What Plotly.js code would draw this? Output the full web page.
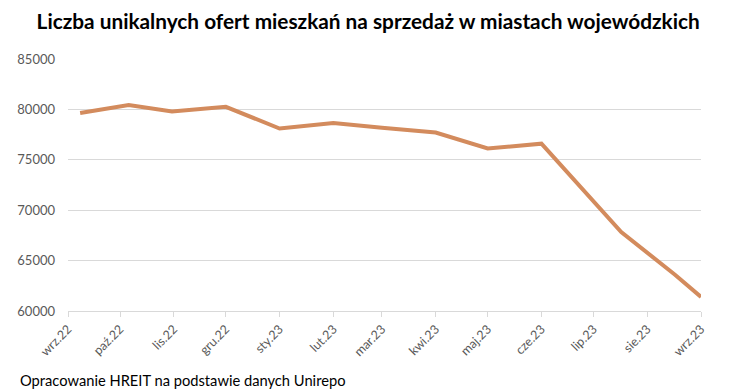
<!DOCTYPE html>
<html>
<head>
<meta charset="utf-8">
<script src="https://cdn.plot.ly/plotly-3.0.1.min.js"></script>
<style>html,body{margin:0;padding:0;background:#fff;}#chart{width:756px;height:390px;}</style>
</head>
<body>
<div id="chart"></div>
<script>
const dates = ['2022-09-08','2022-10-06','2022-10-31','2022-12-01','2023-01-01','2023-02-01','2023-03-01','2023-04-01','2023-05-01','2023-06-01','2023-07-17','2023-08-17','2023-09-01'];
const values = [79650, 80430, 79800, 80260, 78100, 78660, 78170, 77710, 76120, 76600, 67830, 63600, 61400];
const tickDates = ['2022-09-01','2022-10-01','2022-11-01','2022-12-01','2023-01-01','2023-02-01','2023-03-01','2023-04-01','2023-05-01','2023-06-01','2023-07-01','2023-08-01','2023-09-01'];
const tickLabels = ['wrz.22','paź.22','lis.22','gru.22','sty.23','lut.23','mar.23','kwi.23','maj.23','cze.23','lip.23','sie.23','wrz.23'];
const titleText = 'Liczba unikalnych ofert mieszkań na sprzedaż w miastach wojewódzkich';
const sourceText = 'Opracowanie HREIT na podstawie danych Unirepo';

const trace = {
  x: dates, y: values, type: 'scatter', mode: 'lines',
  line: {color: '#D38B5D', width: 4},
  hoverinfo: 'skip'
};
const layout = {
  width: 756, height: 390,
  margin: {l: 68, r: 55, t: 59, b: 79},
  paper_bgcolor: '#ffffff', plot_bgcolor: '#ffffff',
  showlegend: false,
  font: {family: 'Lato, sans-serif', color: '#595959'},
  title: {
    text: titleText, x: 0.487, xanchor: 'center', xref: 'container',
    y: 1 - 22/390, yref: 'container', yanchor: 'middle',
    font: {family: 'Lato, sans-serif', size: 20.8, color: '#000000', weight: 'bold'}
  },
  xaxis: {
    type: 'date', range: ['2022-09-01', '2023-09-01'],
    tickvals: tickDates, ticktext: tickLabels, tickangle: -45,
    showgrid: false, zeroline: false,
    showline: true, linecolor: '#D9D9D9', linewidth: 1,
    ticks: 'outside', ticklen: 5, tickcolor: '#D9D9D9', tickwidth: 1,
    tickfont: {family: 'Lato, sans-serif', size: 12.5, color: '#595959'}
  },
  yaxis: {
    range: [60000, 85000], dtick: 5000, tick0: 60000, tickformat: 'd',
    showgrid: true, gridcolor: '#D9D9D9', gridwidth: 1,
    zeroline: false, showline: false, ticks: '',
    ticklabelstandoff: 12,
    tickfont: {family: 'Lato, sans-serif', size: 13, color: '#595959'}
  },
  annotations: [{
    text: sourceText, xref: 'paper', yref: 'paper',
    x: -50/633, y: (311-380)/252, xanchor: 'left', yanchor: 'middle',
    showarrow: false,
    font: {family: 'Lato, sans-serif', size: 14.7, color: '#000000'}
  }]
};
Plotly.newPlot('chart', [trace], layout, {displayModeBar: false, staticPlot: true});
</script>
</body>
</html>
